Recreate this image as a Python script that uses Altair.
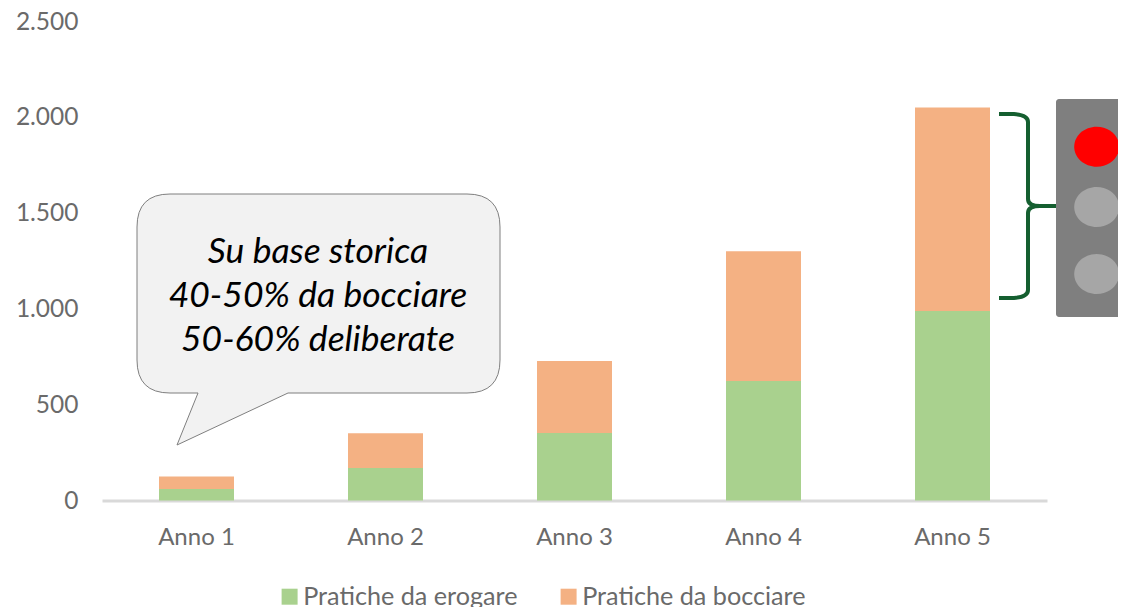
import altair as alt
import pandas as pd

categories = ["Anno 1", "Anno 2", "Anno 3", "Anno 4", "Anno 5"]
erogare = [60, 170, 352, 623, 988]
bocciare = [65, 180, 375, 677, 1061]
series_names = ["Pratiche da erogare", "Pratiche da bocciare"]
series_colors = ["#A9D18E", "#F4B183"]
callout_lines = ["Su base storica", "40-50% da bocciare", "50-60% deliberate"]
FONT = "Lato"
AX = "#6a6a6a"

rows = []
for i, c in enumerate(categories):
    rows.append({"cat": c, "s": series_names[0], "v": erogare[i], "o": 0})
    rows.append({"cat": c, "s": series_names[1], "v": bocciare[i], "o": 1})
df = pd.DataFrame(rows)

OX, OY = 102, 21  # plot origin on the page

bars = alt.Chart(df).mark_bar(size=75).encode(
    x=alt.X("cat:N", sort=categories, title=None, scale=alt.Scale(paddingInner=0.6, paddingOuter=0.3),
            axis=alt.Axis(labelAngle=0, labelFont=FONT, labelFontSize=24, labelColor=AX,
                          labelPadding=25, ticks=False, domainColor="#d9d9d9", domainWidth=3, grid=False)),
    y=alt.Y("v:Q", stack="zero", title=None, scale=alt.Scale(domain=[0, 2500], nice=False),
            axis=alt.Axis(values=[0, 500, 1000, 1500, 2000, 2500], grid=False, domain=False, ticks=False,
                          labelFont=FONT, labelFontSize=24.5, labelColor=AX, labelPadding=24, labelOffset=1,
                          labelExpr="replace(format(datum.value, ','), ',', '.')")),
    color=alt.Color("s:N", scale=alt.Scale(domain=series_names, range=series_colors), sort=series_names,
                    legend=alt.Legend(title=None, orient="none", direction="horizontal",
                                      legendX=175, legendY=563, symbolType="square", symbolSize=256,
                                      symbolStrokeWidth=0, labelFont=FONT, labelFontSize=25.2, labelColor=AX,
                                      labelLimit=0, columnPadding=38, labelOffset=1)),
    order=alt.Order("o:Q"),
)


def shape(path, fill=None, stroke=None, sw=1.0, x=-OX, y=-OY):
    kw = {"shape": path, "size": 4, "opacity": 1, "filled": fill is not None, "strokeWidth": sw}
    if fill:
        kw["fill"] = fill
    if stroke:
        kw["stroke"] = stroke
    else:
        kw["strokeWidth"] = 0
    return alt.Chart().mark_point(**kw).encode(x=alt.value(x), y=alt.value(y))


callout_path = ("M170 194 L467 194 Q500 194 500 227 L500 360 Q500 393 467 393 L288 393 L177 445 L198 393 "
                "L170 393 Q137 393 137 360 L137 227 Q137 194 170 194 Z")
callout = shape(callout_path, fill="#f2f2f2", stroke="#7f7f7f", sw=1)

texts = [
    alt.Chart(pd.DataFrame({"t": [line]})).mark_text(
        font=FONT, fontStyle="italic", fontSize=35.5, color="#000000", align="center", baseline="middle"
    ).encode(text="t:N", x=alt.value(318 - OX), y=alt.value(yy - OY))
    for line, yy in zip(callout_lines, [252, 296, 340])
]

brace_path = ("M999 114 L1014 114 Q1028 115 1028 122 L1028 199 Q1028 206 1040 206 L1056 206 "
              "M1040 206 Q1028 206 1028 213 L1028 290 Q1028 297 1014 298 L999 298")
brace = alt.Chart().mark_point(shape=brace_path, size=4, opacity=1, filled=False, stroke="#155F30",
                               strokeWidth=4, fill="transparent").encode(
    x=alt.value(-OX), y=alt.value(-OY))

panel = alt.Chart().mark_rect(fill="#7f7f7f", cornerRadius=3).encode(
    x=alt.value(1056 - OX), x2=alt.value(1135 - OX), y=alt.value(99 - OY), y2=alt.value(317 - OY))

ELL = "M-22.5 0 A22.5 20 0 1 1 22.5 0 A22.5 20 0 1 1 -22.5 0 Z"
lights = [shape(ELL, fill=c, x=1096.7 - OX, y=yy - OY)
          for c, yy in [("#ff0000", 146.7), ("#a6a6a6", 207), ("#a6a6a6", 274)]]

chart = alt.layer(bars, callout, *texts, brace, panel, *lights).properties(
    width=945, height=479.5,
    autosize=alt.AutoSizeParams(type="none"),
    padding={"left": OX - 8, "top": OY - 8, "right": 1126 - OX - 945 - 8, "bottom": 599 - (OY - 8) - 479.5},
).configure_view(stroke=None)

chart.save("out.html", embed_options={"renderer": "svg", "actions": False})
